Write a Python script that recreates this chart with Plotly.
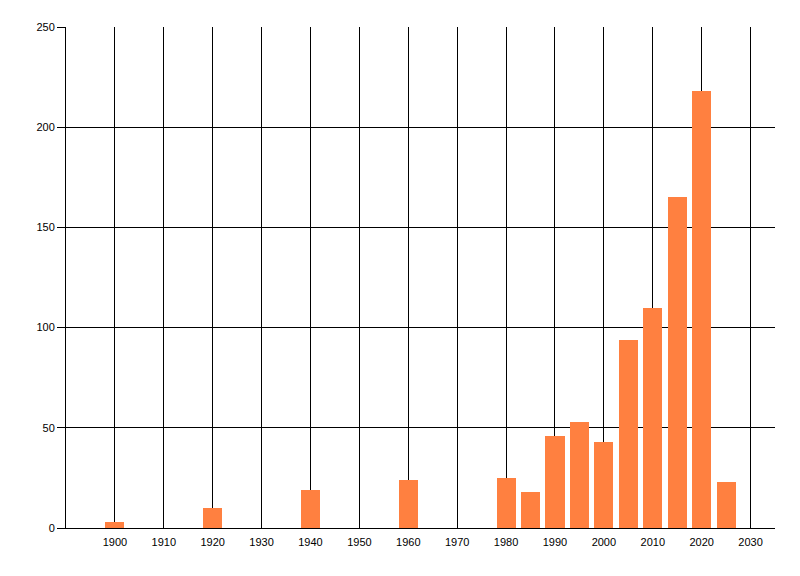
import plotly.graph_objects as go

# year buckets and counts
years = [1900, 1920, 1940, 1960, 1980, 1985, 1990, 1995, 2000, 2005, 2010, 2015, 2020, 2025]
counts = [3, 10, 19, 24, 25, 18, 46, 53, 43, 94, 110, 165, 218, 23]

x_ticks = list(range(1900, 2031, 10))
y_ticks = [0, 50, 100, 150, 200, 250]

fig = go.Figure()
fig.add_trace(
    go.Bar(
        x=years,
        y=counts,
        width=3.9,
        marker_color="#FF8040",
        marker_line_width=0,
    )
)

# page body adds 8px offset, so margins are trimmed to match
fig.update_layout(
    width=800,
    height=576,
    margin=dict(l=58, r=33, t=19, b=56),
    plot_bgcolor="#ffffff",
    paper_bgcolor="#ffffff",
    font=dict(family="Liberation Sans, Arial, sans-serif", size=11, color="#000000"),
    showlegend=False,
    bargap=0,
)
fig.update_xaxes(
    range=[1890, 2035],
    tickvals=x_ticks,
    showgrid=True,
    gridcolor="#000000",
    gridwidth=1,
    showline=True,
    linecolor="#000000",
    linewidth=1,
    ticks="outside",
    ticklen=4,
    tickcolor="rgba(0,0,0,0)",
    zeroline=False,
)
fig.update_yaxes(
    range=[0, 250],
    tickvals=y_ticks,
    showgrid=True,
    gridcolor="#000000",
    gridwidth=1,
    showline=True,
    linecolor="#000000",
    linewidth=1,
    ticks="outside",
    ticklen=8,
    tickcolor="#000000",
    zeroline=False,
)

fig.write_html("out.html")
